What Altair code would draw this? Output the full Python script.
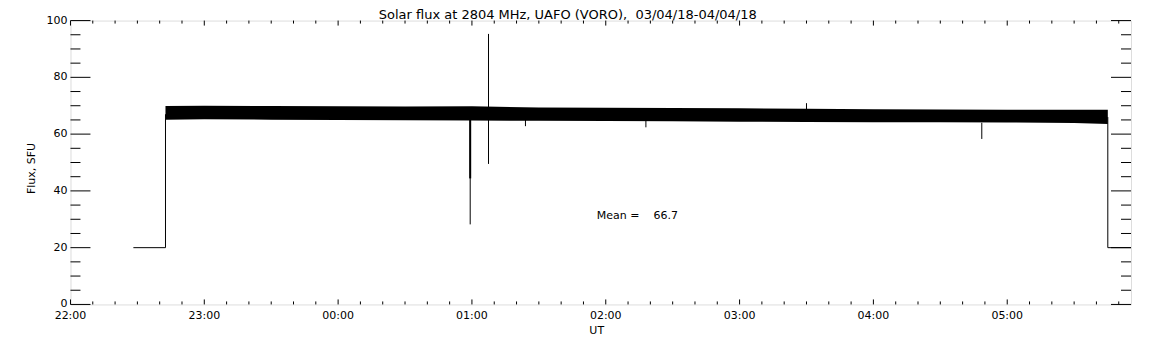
import altair as alt
import pandas as pd

TITLE = "Solar flux at 2804 MHz, UAFO (VORO),  03/04/18-04/04/18"
X_TITLE = "UT"
Y_TITLE = "Flux, SFU"
MEAN_TEXT = "Mean =    66.7"
MEAN_TIME = "01:56:00"
MEAN_FLUX = 31.0

X_DOMAIN = ["22:00:00", "05:55:30"]
Y_DOMAIN = [0, 100]

# baseline segments before / after observation
start_time = ["22:28:12", "22:42:36", "22:42:36"]
start_flux = [20, 20, 67]
end_time = ["05:45:06", "05:45:06", "05:55:30"]
end_flux = [66, 20, 20]

# envelope of the noisy flux record (lower / upper edge)
band_time = ["22:42:36", "23:00:00", "23:30:00", "00:00:00", "00:30:00", "01:00:00",
             "01:30:00", "02:00:00", "02:30:00", "03:00:00", "03:30:00", "04:00:00",
             "04:30:00", "05:00:00", "05:30:00", "05:45:06"]
band_low = [65.1, 65.2, 65.1, 65.0, 64.9, 64.8, 64.7, 64.6, 64.5, 64.4, 64.3, 64.2,
            64.2, 64.1, 63.9, 63.6]
band_high = [69.9, 70.0, 69.9, 69.8, 69.7, 69.8, 69.4, 69.3, 69.2, 69.1, 68.9, 68.8,
             68.7, 68.6, 68.6, 68.6]

# isolated spikes
spike_time = ["00:59:13", "00:59:13", "01:07:26", "01:24:00", "02:18:00", "03:30:00", "04:48:36"]
spike_low = [28.2, 44.4, 49.5, 62.8, 62.4, 68.0, 58.3]
spike_high = [65.0, 65.0, 95.3, 65.0, 65.0, 70.9, 64.0]
spike_width = [1, 2, 1, 1, 1, 1, 1]

# tick values and labels
x_major = ["22:00:00", "23:00:00", "00:00:00", "01:00:00", "02:00:00", "03:00:00",
           "04:00:00", "05:00:00"]
x_labels = ["22:00", "23:00", "00:00", "01:00", "02:00", "03:00", "04:00", "05:00"]
x_minor = [f"{h:02d}:{m:02d}:00" for h in [22, 23, 0, 1, 2, 3, 4, 5] for m in [10, 20, 30, 40, 50]]
y_major = [0, 20, 40, 60, 80, 100]
y_labels = ["0", "20", "40", "60", "80", "100"]
y_minor = [5, 10, 15, 25, 30, 35, 45, 50, 55, 65, 70, 75, 85, 90, 95]

W, H = 1061, 284
FONT = "DejaVu Sans"
FS = 11


def iso(s):
    h = int(s[:2])
    day = "2018-04-03" if h >= 12 else "2018-04-04"
    return f"{day}T{s}Z"


def nb(s):
    return s.replace(" ", "\u00a0")


xscale = alt.Scale(type="utc", domain=[iso(X_DOMAIN[0]), iso(X_DOMAIN[1])], nice=False)
yscale = alt.Scale(domain=Y_DOMAIN, nice=False, zero=False)

band_df = pd.DataFrame({"t": [iso(s) for s in band_time], "low": band_low, "high": band_high})
start_df = pd.DataFrame({"t": [iso(s) for s in start_time], "flux": start_flux, "o": range(len(start_time))})
end_df = pd.DataFrame({"t": [iso(s) for s in end_time], "flux": end_flux, "o": range(len(end_time))})
spike_df = pd.DataFrame({"t": [iso(s) for s in spike_time], "low": spike_low,
                         "high": spike_high, "w": spike_width})
xmaj_df = pd.DataFrame({"t": [iso(s) for s in x_major], "label": x_labels})
xmin_df = pd.DataFrame({"t": [iso(s) for s in x_minor]})
ymaj_df = pd.DataFrame({"v": y_major, "label": y_labels})
ymin_df = pd.DataFrame({"v": y_minor})
mean_df = pd.DataFrame({"t": [iso(MEAN_TIME)], "v": [MEAN_FLUX], "label": [nb(MEAN_TEXT)]})
text_df = pd.DataFrame({"title": [nb(TITLE)], "xt": [X_TITLE], "yt": [nb(Y_TITLE)]})


def X(field="t:T"):
    return alt.X(field, scale=xscale, axis=None)


def Y(field):
    return alt.Y(field, scale=yscale, axis=None)


band = alt.Chart(band_df).mark_area(color="black", opacity=1).encode(
    x=X(), y=Y("low:Q"), y2="high:Q")

line_start = alt.Chart(start_df).mark_line(color="black", strokeWidth=1).encode(
    x=X(), y=Y("flux:Q"), order="o:Q")
line_end = alt.Chart(end_df).mark_line(color="black", strokeWidth=1).encode(
    x=X(), y=Y("flux:Q"), order="o:Q")

spikes = alt.Chart(spike_df).mark_rule(color="black").encode(
    x=X(), y=Y("low:Q"), y2="high:Q",
    strokeWidth=alt.StrokeWidth("w:Q", scale=None, legend=None))


def xticks(df, length, top):
    if top:
        yv, y2v = 0, length
    else:
        yv, y2v = H, H - length
    return alt.Chart(df).mark_rule(color="black", strokeWidth=1).encode(
        x=X(), y=alt.value(yv), y2=alt.value(y2v))


def yticks(df, length, right):
    if right:
        xv, x2v = W, W - length
    else:
        xv, x2v = 0, length
    return alt.Chart(df).mark_rule(color="black", strokeWidth=1).encode(
        y=Y("v:Q"), x=alt.value(xv), x2=alt.value(x2v))


xlab = alt.Chart(xmaj_df).mark_text(
    align="center", baseline="middle", font=FONT, fontSize=FS, color="black").encode(
    x=X(), y=alt.value(H + 12), text="label:N")

ylab = alt.Chart(ymaj_df).mark_text(
    align="right", baseline="middle", font=FONT, fontSize=FS, color="black").encode(
    y=Y("v:Q"), x=alt.value(-3), text="label:N")

mean_text = alt.Chart(mean_df).mark_text(
    align="left", baseline="middle", font=FONT, fontSize=FS, color="black").encode(
    x=X(), y=Y("v:Q"), text="label:N")

title_text = alt.Chart(text_df).mark_text(
    align="center", baseline="top", font=FONT, fontSize=13, color="black").encode(
    x=alt.value(W / 2 - 33), y=alt.value(-12), text="title:N")

xtitle = alt.Chart(text_df).mark_text(
    align="center", baseline="middle", font=FONT, fontSize=FS, color="black").encode(
    x=alt.value(W / 2 - 4), y=alt.value(H + 27), text="xt:N")

ytitle = alt.Chart(text_df).mark_text(
    align="center", baseline="middle", font=FONT, fontSize=FS, color="black", angle=270).encode(
    x=alt.value(-38), y=alt.value(H / 2 + 6), text="yt:N")

chart = alt.layer(
    band, line_start, line_end, spikes,
    xticks(xmaj_df, 5, False), xticks(xmaj_df, 5, True),
    xticks(xmin_df, 3, False), xticks(xmin_df, 3, True),
    yticks(ymaj_df, 20, False), yticks(ymaj_df, 20, True),
    yticks(ymin_df, 10, False), yticks(ymin_df, 10, True),
    xlab, ylab, mean_text, title_text, xtitle, ytitle,
).properties(
    width=W, height=H,
    autosize=alt.AutoSizeParams(type="none"),
    padding={"left": 62.5, "top": 12.5, "right": 13, "bottom": 33},
).configure_view(
    stroke="black", strokeWidth=1
).configure(background="white")

chart.save("out.html", embed_options={"renderer": "svg", "actions": False})
